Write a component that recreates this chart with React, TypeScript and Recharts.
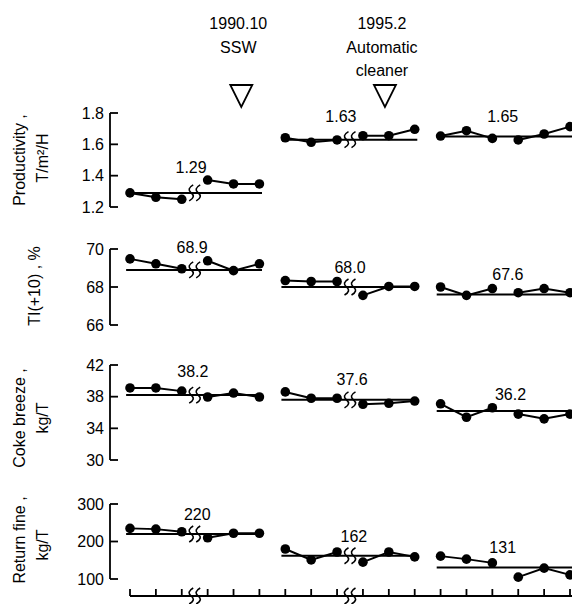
import React from "react";
import { LineChart, Line, XAxis, YAxis, ReferenceLine, ReferenceDot } from "recharts";

// 18 periods, three groups of six, each group broken after its third point
const xTicks = [0, 1, 2, 3, 4, 5, 6, 7, 8, 9, 10, 11, 12, 13, 14, 15, 16, 17];
const breakX = [2.5, 8.5];

const eventX = [4.3, 9.85];
const eventText = [["1990.10", "SSW"], ["1995.2", "Automatic", "cleaner"]];

const prodValues = [1.29, 1.262, 1.249, 1.372, 1.347, 1.347, 1.642, 1.613, 1.628, 1.655, 1.655, 1.696, 1.653, 1.687, 1.638, 1.628, 1.666, 1.713];
const prodMeans = [1.29, 1.63, 1.65];
const prodMeanText = ["1.29", "1.63", "1.65"];
const prodLabelX = [2.36, 8.15, 14.4];
const prodLabelY = [1.417, 1.743, 1.743];

const tiValues = [69.48, 69.22, 68.96, 69.38, 68.86, 69.22, 68.34, 68.29, 68.29, 67.56, 68.03, 68.03, 68.0, 67.56, 67.92, 67.7, 67.92, 67.7];
const tiMeans = [68.9, 68.0, 67.6];
const tiMeanText = ["68.9", "68.0", "67.6"];
const tiLabelX = [2.4, 8.5, 14.6];
const tiLabelY = [69.79, 68.74, 68.37];

const cokeValues = [39.1, 39.1, 38.7, 37.96, 38.46, 37.96, 38.6, 37.8, 37.8, 37.04, 37.16, 37.45, 37.1, 35.4, 36.6, 35.8, 35.2, 35.8];
const cokeMeans = [38.2, 37.6, 36.2];
const cokeMeanText = ["38.2", "37.6", "36.2"];
const cokeLabelX = [2.43, 8.58, 14.7];
const cokeLabelY = [40.48, 39.47, 37.58];

const returnValues = [235, 233, 226, 210, 222, 222, 180, 151, 172, 145, 172, 159, 161, 153, 143, 105, 129, 111];
const returnMeans = [220, 162, 131];
const returnMeanText = ["220", "162", "131"];
const returnLabelX = [2.6, 8.65, 14.4];
const returnLabelY = [257, 199, 169];

const INK = "#000";
const FONT = "'Liberation Sans', Arial, sans-serif";

// insert null rows so the line breaks between halves of each group
function buildRows(values: number[]) {
  const rows: { x: number; v: number | null }[] = [];
  values.forEach((v, i) => {
    if (i > 0 && i % 3 === 0) rows.push({ x: i - 0.5, v: null });
    rows.push({ x: i, v });
  });
  return rows;
}

const BreakMark = (props: any) => {
  const { cx, cy } = props;
  return (
    <g fill="none" stroke={INK} strokeWidth={1.6}>
      {[-3.5, 3.5].map((dx) => (
        <path
          key={dx}
          d={`M ${cx + dx + 2} ${cy - 8} Q ${cx + dx - 5} ${cy - 4} ${cx + dx} ${cy} Q ${cx + dx + 5} ${cy + 4} ${cx + dx - 2} ${cy + 8}`}
        />
      ))}
    </g>
  );
};

const textShape = (text: string) => (props: any) => (
  <text x={props.cx} y={props.cy} textAnchor="middle" fontSize={16} fill={INK} fontFamily={FONT}>
    {text}
  </text>
);

const eventShape = (lines: string[]) => (props: any) => {
  const { cx, cy } = props;
  return (
    <g>
      {lines.map((t, i) => (
        <text key={t} x={cx - 3} y={cy - 84 + i * 23.5} textAnchor="middle" fontSize={16} fill={INK} fontFamily={FONT}>
          {t}
        </text>
      ))}
      <path d={`M ${cx - 11} ${cy - 28} L ${cx + 11} ${cy - 28} L ${cx} ${cy - 6} Z`} fill="none" stroke={INK} strokeWidth={1.8} />
    </g>
  );
};

interface PanelProps {
  top: number;
  height: number;
  marginTop: number;
  marginBottom: number;
  domain: [number, number];
  ticks: number[];
  format: (v: number) => string;
  values: number[];
  means: number[];
  meanText: string[];
  labelX: number[];
  labelY: number[];
  extra?: React.ReactNode;
}

function Panel(p: PanelProps) {
  return (
    <div style={{ position: "absolute", left: 0, top: p.top }}>
      <LineChart
        width={572}
        height={p.height}
        data={buildRows(p.values)}
        margin={{ top: p.marginTop, right: 2, bottom: p.marginBottom, left: 50 }}
      >
        <XAxis type="number" dataKey="x" domain={[0, 17]} hide padding={{ left: 20, right: 0 }} />
        <YAxis
          type="number"
          domain={p.domain}
          ticks={p.ticks}
          interval={0}
          width={60}
          tickSize={-8}
          tickMargin={14}
          tickFormatter={p.format}
          axisLine={{ stroke: INK, strokeWidth: 1.8 }}
          tickLine={{ stroke: INK, strokeWidth: 1.8 }}
          tick={{ fill: INK, fontSize: 16, fontFamily: FONT }}
        />
        {p.means.map((m, g) => (
          <ReferenceLine
            key={`mean-${g}`}
            segment={[{ x: g * 6 - 0.15, y: m }, { x: g * 6 + 5.1, y: m }]}
            stroke={INK}
            strokeWidth={2}
            ifOverflow="visible"
          />
        ))}
        <Line
          dataKey="v"
          stroke={INK}
          strokeWidth={2}
          dot={{ r: 4.8, fill: INK, stroke: INK, strokeWidth: 0 }}
          connectNulls={false}
          isAnimationActive={false}
        />
        {breakX.map((bx, g) => (
          <ReferenceDot key={`brk-${g}`} x={bx} y={p.means[g]} shape={BreakMark} ifOverflow="visible" />
        ))}
        {p.meanText.map((t, g) => (
          <ReferenceDot key={`lbl-${g}`} x={p.labelX[g]} y={p.labelY[g]} shape={textShape(t)} ifOverflow="visible" />
        ))}
        {p.extra}
      </LineChart>
    </div>
  );
}

const fmt1 = (v: number) => v.toFixed(1);
const fmt0 = (v: number) => String(v);

function YTitle({ x, y, text }: { x: number; y: number; text: string }) {
  return (
    <text transform={`translate(${x},${y}) rotate(-90)`} textAnchor="middle" fontSize={16} fill={INK} fontFamily={FONT}>
      {text}
    </text>
  );
}

export default function App() {
  const axisRows = xTicks.map((x) => ({ x, y: 0.5 }));
  return (
    <div style={{ position: "absolute", left: 0, top: 0, width: 572, height: 604, background: "#fff", fontFamily: FONT, overflow: "hidden" }}>
      <Panel
        top={0}
        height={215}
        marginTop={113}
        marginBottom={8}
        domain={[1.2, 1.8]}
        ticks={[1.2, 1.4, 1.6, 1.8]}
        format={fmt1}
        values={prodValues}
        means={prodMeans}
        meanText={prodMeanText}
        labelX={prodLabelX}
        labelY={prodLabelY}
        extra={eventX.map((ex, i) => (
          <ReferenceDot key={`ev-${i}`} x={ex} y={1.8} shape={eventShape(eventText[i])} ifOverflow="visible" />
        ))}
      />
      <Panel
        top={215}
        height={120}
        marginTop={34}
        marginBottom={10}
        domain={[66, 70]}
        ticks={[66, 68, 70]}
        format={fmt0}
        values={tiValues}
        means={tiMeans}
        meanText={tiMeanText}
        labelX={tiLabelX}
        labelY={tiLabelY}
      />
      <Panel
        top={335}
        height={135}
        marginTop={30}
        marginBottom={10}
        domain={[30, 42]}
        ticks={[30, 34, 38, 42]}
        format={fmt0}
        values={cokeValues}
        means={cokeMeans}
        meanText={cokeMeanText}
        labelX={cokeLabelX}
        labelY={cokeLabelY}
      />
      <div style={{ position: "absolute", left: 0, top: 585 }}>
        <LineChart width={572} height={19} data={axisRows} margin={{ top: 0, right: 0, bottom: 0, left: 130 }}>
          <XAxis
            type="number"
            dataKey="x"
            domain={[0, 17]}
            ticks={xTicks}
            interval={0}
            height={8}
            padding={{ left: 0, right: 2 }}
            tickSize={-7}
            tickMargin={0}
            tickFormatter={() => ""}
            axisLine={{ stroke: INK, strokeWidth: 1.8 }}
            tickLine={{ stroke: INK, strokeWidth: 1.8 }}
          />
          <YAxis hide type="number" domain={[0, 1]} />
          <Line dataKey="y" stroke="none" dot={false} isAnimationActive={false} />
          {breakX.map((bx, g) => (
            <ReferenceDot key={`xb-${g}`} x={bx} y={0} shape={BreakMark} ifOverflow="visible" />
          ))}
        </LineChart>
      </div>
      <Panel
        top={470}
        height={124}
        marginTop={34}
        marginBottom={15}
        domain={[100, 300]}
        ticks={[100, 200, 300]}
        format={fmt0}
        values={returnValues}
        means={returnMeans}
        meanText={returnMeanText}
        labelX={returnLabelX}
        labelY={returnLabelY}
      />
      <svg width={572} height={604} style={{ position: "absolute", left: 0, top: 0, pointerEvents: "none" }}>
        <YTitle x={25} y={160} text="Productivity ," />
        <YTitle x={48} y={158} text="T/m²/H" />
        <YTitle x={40} y={286} text="TI(+10) , %" />
        <YTitle x={25} y={418} text="Coke breeze ," />
        <YTitle x={48} y={418} text="kg/T" />
        <YTitle x={25} y={540} text="Return fine ," />
        <YTitle x={48} y={545} text="kg/T" />
      </svg>
    </div>
  );
}
